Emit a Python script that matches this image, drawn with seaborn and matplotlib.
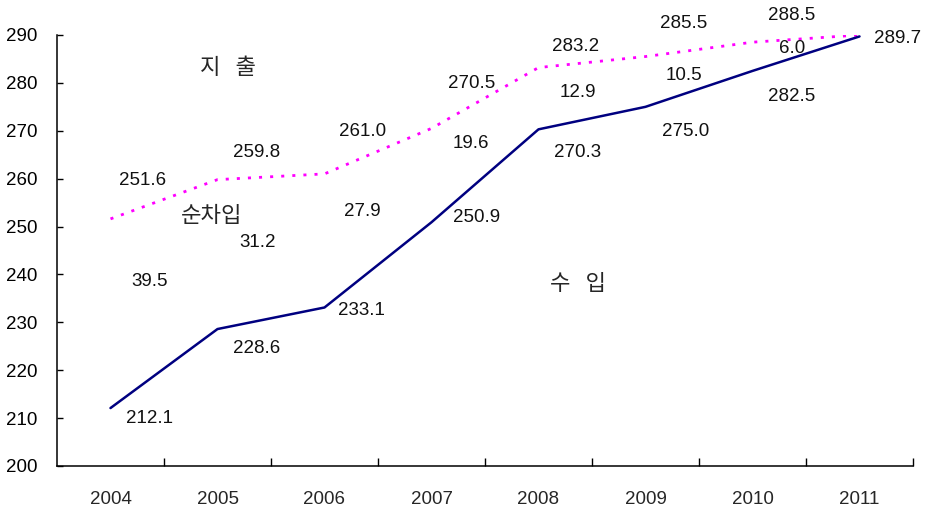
import matplotlib
matplotlib.use("Agg")
import matplotlib.pyplot as plt
import seaborn as sns
import numpy as np
import pandas as pd

years = ["2004", "2005", "2006", "2007", "2008", "2009", "2010", "2011"]
expenditure = [251.6, 259.8, 261.0, 270.5, 283.2, 285.5, 288.5, 290.0]
income = [212.1, 228.6, 233.1, 250.9, 270.3, 275.0, 282.5, 289.7]
net_borrowing = [39.5, 31.2, 27.9, 19.6, 12.9, 10.5, 6.0]
exp_labels = ["251.6", "259.8", "261.0", "270.5", "283.2", "285.5", "288.5"]
inc_labels = ["212.1", "228.6", "233.1", "250.9", "270.3", "275.0", "282.5", "289.7"]
net_labels = ["39.5", "31.2", "27.9", "19.6", "12.9", "10.5", "6.0"]
yticks = [200, 210, 220, 230, 240, 250, 260, 270, 280, 290]

sns.set_style("white")
plt.rcParams['font.family'] = ['Liberation Sans', 'Noto Sans CJK KR', 'DejaVu Sans']

fig = plt.figure(figsize=(9.25, 5.13), dpi=100)
ax = fig.add_axes([57/925, (513-466)/513, (913-57)/925, (466-35)/513])

pos = np.arange(len(years))
df = pd.DataFrame({"pos": pos, "exp": expenditure, "inc": income})

sns.lineplot(data=df, x="pos", y="exp", ax=ax, color="#FF00FF", linewidth=2.0,
             linestyle=(0, (1.1, 2.9)))
sns.lineplot(data=df, x="pos", y="inc", ax=ax, color="#000080", linewidth=1.8)

ax.set_xlim(-0.5, len(years) - 0.5)
ax.set_ylim(200, 290)
ax.set_xlabel("")
ax.set_ylabel("")

for s in ["top", "right"]:
    ax.spines[s].set_visible(False)
for s in ["left", "bottom"]:
    ax.spines[s].set_color("black")
    ax.spines[s].set_linewidth(1.1)

ax.set_yticks(yticks)
ax.set_yticklabels([str(t) for t in yticks])
ax.tick_params(axis="y", left=True, direction="in", length=4, width=1, pad=14,
               labelsize=13.5, colors="black")

ax.set_xticks(pos)
ax.set_xticklabels(years)
ax.tick_params(axis="x", which="major", bottom=True, length=0, pad=18, labelsize=13.5)
ax.set_xticks(np.arange(0.5, len(years), 1.0), minor=True)
ax.tick_params(axis="x", which="minor", bottom=True, direction="in", length=6, width=1,
               color="black")

# label offsets (pixels)
exp_off = [(32, 38), (39, 27), (38, 42), (40, 45), (37, 21), (38, 33), (39, 27)]
inc_off = [(39, -10), (39, -19), (37, -3), (45, 5), (39, -23), (40, -25), (39, -26), (38, -2)]
net_off = [(39, -63), (40, -63), (38, -38), (39, -15), (39, -25), (38, -19), (40, -6)]

fs = 13.5
for i, lab in enumerate(exp_labels):
    ax.annotate(lab, (pos[i], expenditure[i]), xytext=exp_off[i], textcoords="offset pixels",
                ha="center", va="center", fontsize=fs, color="#111111")
for i, lab in enumerate(inc_labels):
    ax.annotate(lab, (pos[i], income[i]), xytext=inc_off[i], textcoords="offset pixels",
                ha="center", va="center", fontsize=fs, color="#111111")
for i, lab in enumerate(net_labels):
    ax.annotate(lab, (pos[i], expenditure[i]), xytext=net_off[i], textcoords="offset pixels",
                ha="center", va="center", fontsize=fs, color="#111111")

kfam = ['Noto Sans CJK KR', 'DejaVu Sans']
ax.text(1.102, 283.3, "지   출", ha="center", va="center", fontsize=16, family=kfam)
ax.text(0.943, 252.4, "순차입", ha="center", va="center", fontsize=16, family=kfam)
ax.text(4.370, 238.2, "수   입", ha="center", va="center", fontsize=16, family=kfam)

fig.savefig("out.png", dpi=100)
